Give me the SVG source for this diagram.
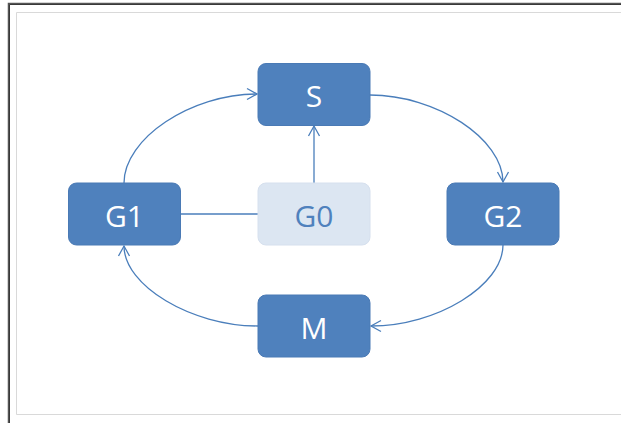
<svg xmlns="http://www.w3.org/2000/svg" width="621" height="423" viewBox="0 0 621 423">
<style>
.node rect{fill:#4F81BD;stroke:#4A7AB5;stroke-width:1}
.node text{fill:#FFFFFF;font-family:"Open Sans","Liberation Sans",sans-serif;font-size:30px;text-anchor:middle;dominant-baseline:central}
#G0 rect{fill:#DCE6F2;stroke:#D6E0EE}
#G0 text{fill:#4F81BD}
.conn path{fill:none;stroke:#4A7EBB;stroke-width:1.3}
</style>
<defs>
<marker id="arr" markerUnits="userSpaceOnUse" markerWidth="14" markerHeight="14" viewBox="-12 -7 14 14" refX="0" refY="0" orient="auto">
<path d="M-10,-5.5 L0,0 L-10,5.5" fill="none" stroke="#4A7EBB" stroke-width="1.3"/>
</marker>
</defs>
<rect x="0" y="0" width="621" height="423" fill="#FFFFFF"/>
<path d="M8.5,423 V3.5 H621" fill="none" stroke="#555555" stroke-width="1.5"/>
<path d="M9.5,423 V4.5 H621" fill="none" stroke="#111111" stroke-width="0.8"/>
<path d="M621,12.5 H16.5 V414.5 H621" fill="none" stroke="#D9D9D9" stroke-width="1"/>
<g class="conn">
<path d="M124,183 C124,138.5 191,94 257,94" marker-end="url(#arr)"/>
<path d="M370,95 C436.5,95 503,139 503,182" marker-end="url(#arr)"/>
<path d="M503,245 C503,285.5 436.5,326 371,326" marker-end="url(#arr)"/>
<path d="M258,326 C191,326 124,285.5 124,246" marker-end="url(#arr)"/>
<path d="M314,183 V126" marker-end="url(#arr)"/>
<path d="M180,214 H258"/>
</g>
<g id="S" class="node"><rect x="258" y="63.5" width="112" height="62" rx="8"/><text x="314" y="95">S</text></g>
<g id="G1" class="node"><rect x="68.5" y="183" width="112" height="62" rx="8"/><text x="124.5" y="215">G1</text></g>
<g id="G0" class="node"><rect x="258" y="183" width="112" height="62" rx="8"/><text x="314" y="215">G0</text></g>
<g id="G2" class="node"><rect x="447" y="183" width="112" height="62" rx="8"/><text x="503" y="215">G2</text></g>
<g id="M" class="node"><rect x="258" y="295" width="112" height="62" rx="8"/><text x="314" y="327">M</text></g>
</svg>
